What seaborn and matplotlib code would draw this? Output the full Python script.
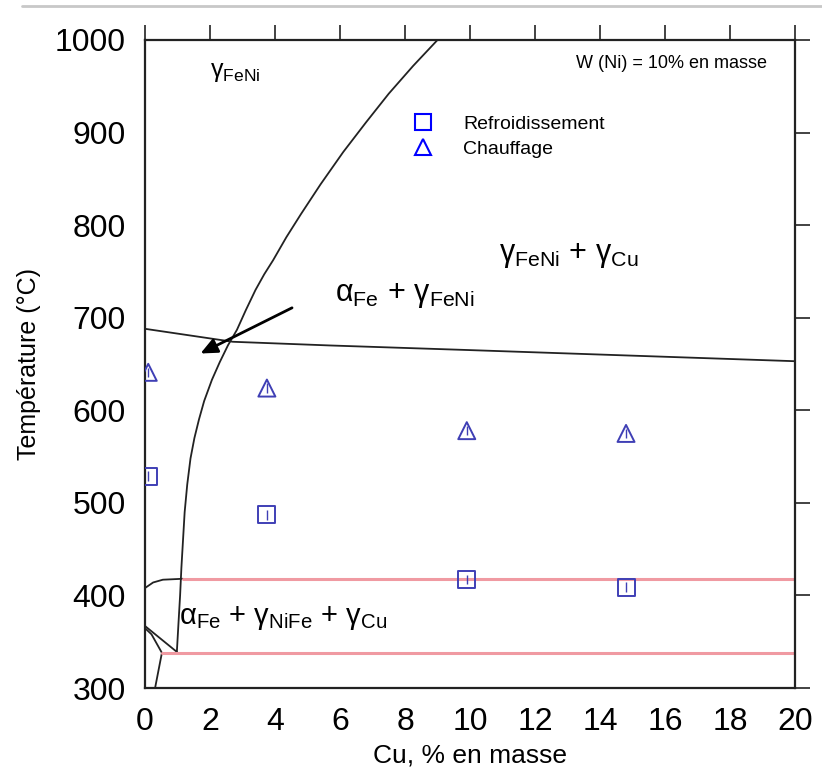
import numpy as np
import pandas as pd
import matplotlib
matplotlib.use("Agg")
import matplotlib.pyplot as plt
from matplotlib.lines import Line2D
import seaborn as sns

# mesures (Cu % en masse, temperature en degC)
cu_heat = [0.1, 3.75, 9.9, 14.8]
t_heat = [641, 624, 578, 575]
cu_cool = [0.1, 3.75, 9.9, 14.8]
t_cool = [529, 487, 417, 409]

curve_cu = [0.98, 1.03, 1.08, 1.12, 1.17, 1.22, 1.3, 1.4, 1.52, 1.66, 1.82, 2.06, 2.3, 2.55,
            2.83, 3.1, 3.4, 3.67, 3.94, 4.35, 4.8, 5.4, 6.1, 6.8, 7.5, 8.25, 9.0]
curve_t = [339, 370, 400, 430, 460, 490, 520, 548, 570, 590, 610, 633, 652, 670,
           687, 708, 730, 747, 762, 787, 812, 844, 879, 911, 942, 972, 1000]

top_cu = [0, 2.7, 5.7, 10, 15, 20]
top_t = [688, 674, 670, 665, 659, 653]

upper_iso_cu = [1.17, 20]
upper_iso_t = [418, 418]
lower_iso_cu = [0.52, 20]
lower_iso_t = [338, 338]

small1_cu = [0, 0.25, 0.55, 1.17]
small1_t = [408, 414, 417, 418]
small2_cu = [0, 0.98]
small2_t = [367, 339]
small3_cu = [0.02, 0.2, 0.52, 0.31]
small3_t = [364, 358, 338, 300]

sns.set_style("white")
plt.rcParams["font.family"] = ["Liberation Sans", "DejaVu Sans"]
plt.rcParams["mathtext.default"] = "regular"
plt.rcParams["text.color"] = "black"
plt.rcParams["axes.labelcolor"] = "black"
plt.rcParams["xtick.color"] = "black"
plt.rcParams["ytick.color"] = "black"

fig = plt.figure(figsize=(8.22, 7.79), dpi=100)
ax = fig.add_axes([0.1764, 0.1168, 0.7908, 0.8319])

line_kw = dict(color="#222222", lw=1.3, sort=False, estimator=None, legend=False)
sns.lineplot(x=curve_cu, y=curve_t, ax=ax, **line_kw)
sns.lineplot(x=top_cu, y=top_t, ax=ax, **line_kw)
for xs, ys in [(small1_cu, small1_t), (small2_cu, small2_t), (small3_cu, small3_t)]:
    sns.lineplot(x=xs, y=ys, ax=ax, **line_kw)

red_kw = dict(color="#f09aa2", lw=2.2, sort=False, estimator=None, legend=False)
sns.lineplot(x=upper_iso_cu, y=upper_iso_t, ax=ax, **red_kw)
sns.lineplot(x=lower_iso_cu, y=lower_iso_t, ax=ax, **red_kw)

pt_color = "#3f3fb5"
ax.errorbar(cu_cool, t_cool, yerr=5, fmt="none", ecolor=pt_color, elinewidth=1)
ax.errorbar(cu_heat, t_heat, yerr=5, fmt="none", ecolor=pt_color, elinewidth=1)
sns.scatterplot(x=cu_cool, y=t_cool, ax=ax, marker="s", s=150, facecolor="none",
                edgecolor=pt_color, linewidth=1.4, zorder=5)
sns.scatterplot(x=cu_heat, y=t_heat, ax=ax, marker="^", s=150, facecolor="none",
                edgecolor=pt_color, linewidth=1.4, zorder=5)

# fleche vers la region alpha + gamma
ax.annotate("", xy=(1.63, 660), xytext=(4.6, 712),
            arrowprops=dict(arrowstyle="-|>,head_length=1.0,head_width=0.45",
                            color="black", lw=2))

ax.text(2.0, 965, r"$γ_{FeNi}$", fontsize=18, ha="left", va="center")
ax.text(5.85, 724, r"$α_{Fe}$ + $γ_{FeNi}$", fontsize=22, ha="left", va="center")
ax.text(10.9, 768, r"$γ_{FeNi}$ + $γ_{Cu}$", fontsize=22, ha="left", va="center")
ax.text(1.05, 376, r"$α_{Fe}$ + $γ_{NiFe}$ + $γ_{Cu}$", fontsize=21, ha="left", va="center")
ax.text(13.25, 975, "W (Ni) = 10% en masse", fontsize=13, ha="left", va="center")

handles = [
    Line2D([], [], ls="none", marker="s", ms=12, mfc="none", mec="#0000ff", mew=1.5),
    Line2D([], [], ls="none", marker="^", ms=12, mfc="none", mec="#0000ff", mew=1.5),
]
ax.legend(handles, ["Refroidissement", "Chauffage"], loc="upper left",
          bbox_to_anchor=(0.412, 0.884), frameon=False, fontsize=14,
          handlelength=1.0, handletextpad=1.6, borderpad=0, borderaxespad=0,
          labelspacing=0.4)

ax.set_xlim(0, 20)
ax.set_ylim(300, 1000)
ax.set_xticks(np.arange(0, 21, 2))
ax.set_yticks(np.arange(300, 1001, 100))
ax.tick_params(axis="both", which="both", direction="out", length=11, width=1.2,
               labelsize=23, top=True, right=True, labeltop=False, labelright=False,
               color="#222222", pad=3)
for sp in ax.spines.values():
    sp.set_linewidth(1.6)
    sp.set_color("#222222")

ax.set_xlabel("Cu, % en masse", fontsize=19, labelpad=4)
ax.set_ylabel("Température (°C)", fontsize=18, labelpad=10)

# trait gris en haut de la page
fig.add_artist(Line2D([0.027, 1.0], [0.992, 0.992], color="#c8c8c8", lw=2,
                      transform=fig.transFigure))

fig.savefig("out.png", dpi=100)
